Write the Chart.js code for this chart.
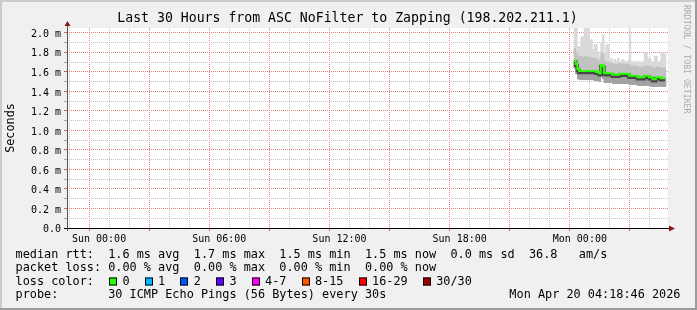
<!DOCTYPE html>
<html>
<head>
<meta charset="utf-8">
<script src="https://cdn.jsdelivr.net/npm/chart.js@4.4.1/dist/chart.umd.min.js"></script>
<style>
  html, body { margin: 0; padding: 0; background: #f0f0f0; }
  canvas { display: block; }
</style>
</head>
<body>
<canvas id="pingChart" width="697" height="310"></canvas>
<script>
// smokeping style graph, values in milliseconds
const sampleTimes = [
    'Sun 23:45', 'Sun 23:50', 'Sun 23:55', 'Mon 00:00', 'Mon 00:05', 'Mon 00:10', 'Mon 00:15', 'Mon 00:20',
    'Mon 00:25', 'Mon 00:30', 'Mon 00:35', 'Mon 00:40', 'Mon 00:45', 'Mon 00:50', 'Mon 00:55', 'Mon 01:00',
    'Mon 01:05', 'Mon 01:10', 'Mon 01:15', 'Mon 01:20', 'Mon 01:25', 'Mon 01:30', 'Mon 01:35', 'Mon 01:40',
    'Mon 01:45', 'Mon 01:50', 'Mon 01:55', 'Mon 02:00', 'Mon 02:05', 'Mon 02:10', 'Mon 02:15', 'Mon 02:20',
    'Mon 02:25', 'Mon 02:30', 'Mon 02:35', 'Mon 02:40', 'Mon 02:45', 'Mon 02:50', 'Mon 02:55', 'Mon 03:00',
    'Mon 03:05', 'Mon 03:10', 'Mon 03:15', 'Mon 03:20', 'Mon 03:25', 'Mon 03:30', 'Mon 03:35', 'Mon 03:40',
    'Mon 03:45', 'Mon 03:50', 'Mon 03:55', 'Mon 04:00', 'Mon 04:05', 'Mon 04:10', 'Mon 04:15'
];
const medianRtt = [
    1.72, 1.68, 1.63, 1.61, 1.61, 1.61, 1.61, 1.61, 1.61, 1.61, 1.61, 1.61, 1.61, 1.60, 1.60, 1.585,
    1.67, 1.66, 1.59, 1.585, 1.585, 1.585, 1.585, 1.57, 1.57, 1.57, 1.57, 1.58, 1.58, 1.58, 1.58, 1.58,
    1.58, 1.56, 1.56, 1.56, 1.56, 1.56, 1.545, 1.545, 1.545, 1.545, 1.56, 1.56, 1.56, 1.545, 1.545, 1.525,
    1.525, 1.545, 1.545, 1.545, 1.535, 1.535, 1.535
];
const maxRtt = [
    2.08, 2.08, 1.86, 1.86, 1.96, 1.96, 2.08, 2.08, 2.08, 1.93, 1.93, 1.83, 1.88, 1.88, 1.79, 1.75,
    1.90, 1.98, 1.80, 1.88, 1.88, 1.72, 1.74, 1.70, 1.73, 1.71, 1.74, 1.70, 1.72, 1.73, 1.71, 1.70,
    1.72, 2.03, 1.71, 1.70, 1.71, 1.69, 1.71, 1.70, 1.70, 1.71, 1.80, 1.80, 1.74, 1.74, 1.71, 1.70,
    1.76, 1.76, 1.70, 1.71, 1.80, 1.80, 1.78
];
const upperRtt = [
    1.84, 1.80, 1.77, 1.76, 1.76, 1.75, 1.76, 1.75, 1.76, 1.75, 1.75, 1.74, 1.74, 1.73, 1.72, 1.70,
    1.80, 1.78, 1.71, 1.70, 1.70, 1.69, 1.69, 1.68, 1.68, 1.68, 1.68, 1.69, 1.68, 1.68, 1.68, 1.68,
    1.68, 1.67, 1.66, 1.66, 1.66, 1.66, 1.65, 1.65, 1.65, 1.65, 1.66, 1.66, 1.66, 1.65, 1.65, 1.64,
    1.64, 1.65, 1.65, 1.65, 1.64, 1.64, 1.64
];
const lowerRtt = [
    1.64, 1.58, 1.53, 1.52, 1.52, 1.52, 1.52, 1.52, 1.52, 1.52, 1.52, 1.52, 1.51, 1.51, 1.51, 1.50,
    1.55, 1.53, 1.49, 1.49, 1.49, 1.49, 1.49, 1.48, 1.48, 1.48, 1.48, 1.48, 1.48, 1.48, 1.48, 1.48,
    1.48, 1.47, 1.47, 1.47, 1.47, 1.47, 1.46, 1.46, 1.46, 1.46, 1.46, 1.46, 1.46, 1.46, 1.45, 1.45,
    1.45, 1.45, 1.45, 1.45, 1.45, 1.45, 1.45
];

const tickHours = [0, 6, 12, 18, 24];
const tickLabels = ['Sun 00:00', 'Sun 06:00', 'Sun 12:00', 'Sun 18:00', 'Mon 00:00'];

const titleText = 'Last 30 Hours from ASC NoFilter to Zapping (198.202.211.1)';
const statsLines = [
    'median rtt:  1.6 ms avg  1.7 ms max  1.5 ms min  1.5 ms now  0.0 ms sd  36.8   am/s',
    'packet loss: 0.00 % avg  0.00 % max  0.00 % min  0.00 % now',
    'probe:       30 ICMP Echo Pings (56 Bytes) every 30s'
];
const lossLabels = ['0', '1', '2', '3', '4-7', '8-15', '16-29', '30/30'];
const stampText = 'Mon Apr 20 04:18:46 2026';

const lossColors = ['#26ff00', '#00b8ff', '#0059ff', '#5e00ff', '#ff00ff', '#ff5500', '#ff0000', '#a10000'];
const MONO = "'DejaVu Sans Mono', monospace";
const GRID_MAJOR = '#e98080';
const GRID_MINOR = '#c4c4c4';

function toHours(label) {
    const parts = label.split(' ');
    const hm = parts[1].split(':').map(Number);
    return (parts[0] === 'Mon' ? 24 : 0) + hm[0] + hm[1] / 60;
}

const xs = sampleTimes.map(toHours);

function isMajorY(v) {
    return Math.round(v * 10) % 2 === 0;
}

function smokeLayer(label, lo, hi, color, order) {
    return {
        type: 'bar',
        label: label,
        data: xs.map((x, i) => ({ x: x, y: [lo[i], hi[i]] })),
        backgroundColor: color,
        grouped: false,
        barPercentage: 1,
        categoryPercentage: 1,
        order: order
    };
}

const framePlugin = {
    id: 'frame',
    beforeDraw(chart) {
        const ctx = chart.ctx;
        const a = chart.chartArea;
        ctx.save();
        ctx.fillStyle = '#f0f0f0';
        ctx.fillRect(0, 0, chart.width, chart.height);
        ctx.fillStyle = '#cbcbcb';
        ctx.fillRect(0, 0, chart.width, 2);
        ctx.fillRect(0, 0, 2, chart.height);
        ctx.fillStyle = '#9b9b9b';
        ctx.fillRect(0, chart.height - 2, chart.width, 2);
        ctx.fillRect(chart.width - 2, 0, 2, chart.height);
        ctx.fillStyle = '#ffffff';
        ctx.fillRect(a.left, a.top, a.right - a.left, a.bottom - a.top);
        ctx.restore();
    },
    afterDraw(chart) {
        const ctx = chart.ctx;
        const a = chart.chartArea;
        ctx.save();

        // title
        ctx.font = '13.2px ' + MONO;
        ctx.fillStyle = '#000';
        ctx.textAlign = 'center';
        ctx.textBaseline = 'middle';
        ctx.fillText(titleText, 347.5, 19);

        // axes with arrows
        ctx.strokeStyle = '#000';
        ctx.lineWidth = 1;
        ctx.beginPath();
        ctx.moveTo(a.left - 3, a.bottom + 0.5);
        ctx.lineTo(a.right + 1, a.bottom + 0.5);
        ctx.stroke();
        ctx.strokeStyle = '#555';
        ctx.beginPath();
        ctx.moveTo(a.left + 0.5, a.bottom + 3);
        ctx.lineTo(a.left + 0.5, a.top - 3);
        ctx.stroke();
        ctx.fillStyle = '#8b1a1a';
        ctx.beginPath();
        ctx.moveTo(a.right + 1, a.bottom - 2.5);
        ctx.lineTo(a.right + 7, a.bottom + 0.5);
        ctx.lineTo(a.right + 1, a.bottom + 3.5);
        ctx.fill();
        ctx.beginPath();
        ctx.moveTo(a.left - 2.5, a.top - 2);
        ctx.lineTo(a.left + 0.5, a.top - 7);
        ctx.lineTo(a.left + 3.5, a.top - 2);
        ctx.fill();

        // watermark
        ctx.save();
        ctx.translate(686, 5);
        ctx.rotate(Math.PI / 2);
        ctx.font = '8.2px ' + MONO;
        ctx.fillStyle = '#aaaaaa';
        ctx.textBaseline = 'middle';
        ctx.textAlign = 'left';
        ctx.fillText('RRDTOOL / TOBI OETIKER', 0, 0);
        ctx.restore();

        // legend block
        ctx.font = '11.85px ' + MONO;
        ctx.fillStyle = '#000';
        ctx.textBaseline = 'middle';
        ctx.textAlign = 'left';
        const x0 = 15.5;
        const cw = ctx.measureText('m').width;
        ctx.fillText(statsLines[0], x0, 254.5);
        ctx.fillText(statsLines[1], x0, 268);
        ctx.fillText('loss color:', x0, 281.5);
        let col = 13;
        lossLabels.forEach((lab, i) => {
            const bx = Math.round(x0 + col * cw + 0.8);
            ctx.fillStyle = lossColors[i];
            ctx.fillRect(bx, 277.5, 8, 8);
            ctx.strokeStyle = '#000';
            ctx.strokeRect(bx + 0.5, 277.5 + 0.5, 7, 7);
            ctx.fillStyle = '#000';
            ctx.fillText(lab, x0 + (col + 2) * cw, 281.5);
            col += 4 + lab.length;
        });
        ctx.fillText(statsLines[2], x0, 295);
        ctx.textAlign = 'right';
        ctx.fillText(stampText, 680.5, 295);
        ctx.restore();
    }
};

const ctx = document.getElementById('pingChart').getContext('2d');

new Chart(ctx, {
    type: 'bar',
    data: {
        datasets: [
            smokeLayer('max', lowerRtt, maxRtt, '#d9d9d9', 5),
            smokeLayer('upper', lowerRtt, upperRtt, '#c2c2c2', 4),
            smokeLayer('lower', lowerRtt, medianRtt, '#a2a2a2', 3),
            {
                type: 'line',
                label: 'sd',
                data: xs.map((x, i) => ({ x: x, y: medianRtt[i] - 0.015 })),
                borderColor: 'rgba(40, 40, 40, 0.75)',
                borderWidth: 3.5,
                stepped: 'middle',
                pointRadius: 0,
                order: 2
            },
            {
                type: 'line',
                label: 'median',
                data: xs.map((x, i) => ({ x: x, y: medianRtt[i] })),
                borderColor: lossColors[0],
                borderWidth: 2,
                stepped: 'middle',
                pointRadius: 0,
                order: 1
            }
        ]
    },
    options: {
        responsive: false,
        animation: false,
        events: [],
        layout: { padding: { left: 0, right: 29, top: 28, bottom: 62 } },
        scales: {
            x: {
                type: 'linear',
                min: -1.6,
                max: 28.4,
                offset: false,
                afterBuildTicks: scale => {
                    const t = [];
                    for (let h = -1; h <= 28; h++) t.push({ value: h });
                    scale.ticks = t;
                },
                afterFit: scale => { scale.height = 20; },
                ticks: {
                    autoSkip: false,
                    maxRotation: 0,
                    padding: 2,
                    color: '#000',
                    font: { family: MONO, size: 10 },
                    callback: value => {
                        const k = tickHours.indexOf(value);
                        return k >= 0 ? tickLabels[k] : '';
                    }
                },
                grid: {
                    color: c => (c.tick && c.tick.value % 3 === 0) ? GRID_MAJOR : GRID_MINOR,
                    tickColor: c => (c.tick && c.tick.value % 3 === 0) ? '#d06060' : 'rgba(0,0,0,0)',
                    tickLength: 3,
                    lineWidth: 1
                },
                border: { display: false, dash: [1, 1] }
            },
            y: {
                min: 0,
                max: 2.05,
                afterBuildTicks: scale => {
                    const t = [];
                    for (let k = 0; k <= 20; k++) t.push({ value: k / 10 });
                    scale.ticks = t;
                },
                afterFit: scale => { scale.width = 67; },
                title: {
                    display: true,
                    text: 'Seconds',
                    color: '#000',
                    font: { family: MONO, size: 11.8 },
                    padding: { top: 4, bottom: 0 }
                },
                ticks: {
                    autoSkip: false,
                    padding: 3,
                    labelOffset: 1.5,
                    color: '#000',
                    font: { family: MONO, size: 10 },
                    callback: value => {
                        if (!isMajorY(value)) return '';
                        return value === 0 ? '0.0' : value.toFixed(1) + ' m';
                    }
                },
                grid: {
                    color: c => (c.tick && isMajorY(c.tick.value)) ? GRID_MAJOR : GRID_MINOR,
                    tickColor: c => (c.tick && isMajorY(c.tick.value)) ? '#d06060' : '#aaaaaa',
                    tickLength: 3,
                    lineWidth: 1
                },
                border: { display: false, dash: [1, 1] }
            }
        },
        plugins: {
            legend: { display: false },
            tooltip: { enabled: false },
            title: { display: false }
        }
    },
    plugins: [framePlugin]
});
</script>
</body>
</html>
